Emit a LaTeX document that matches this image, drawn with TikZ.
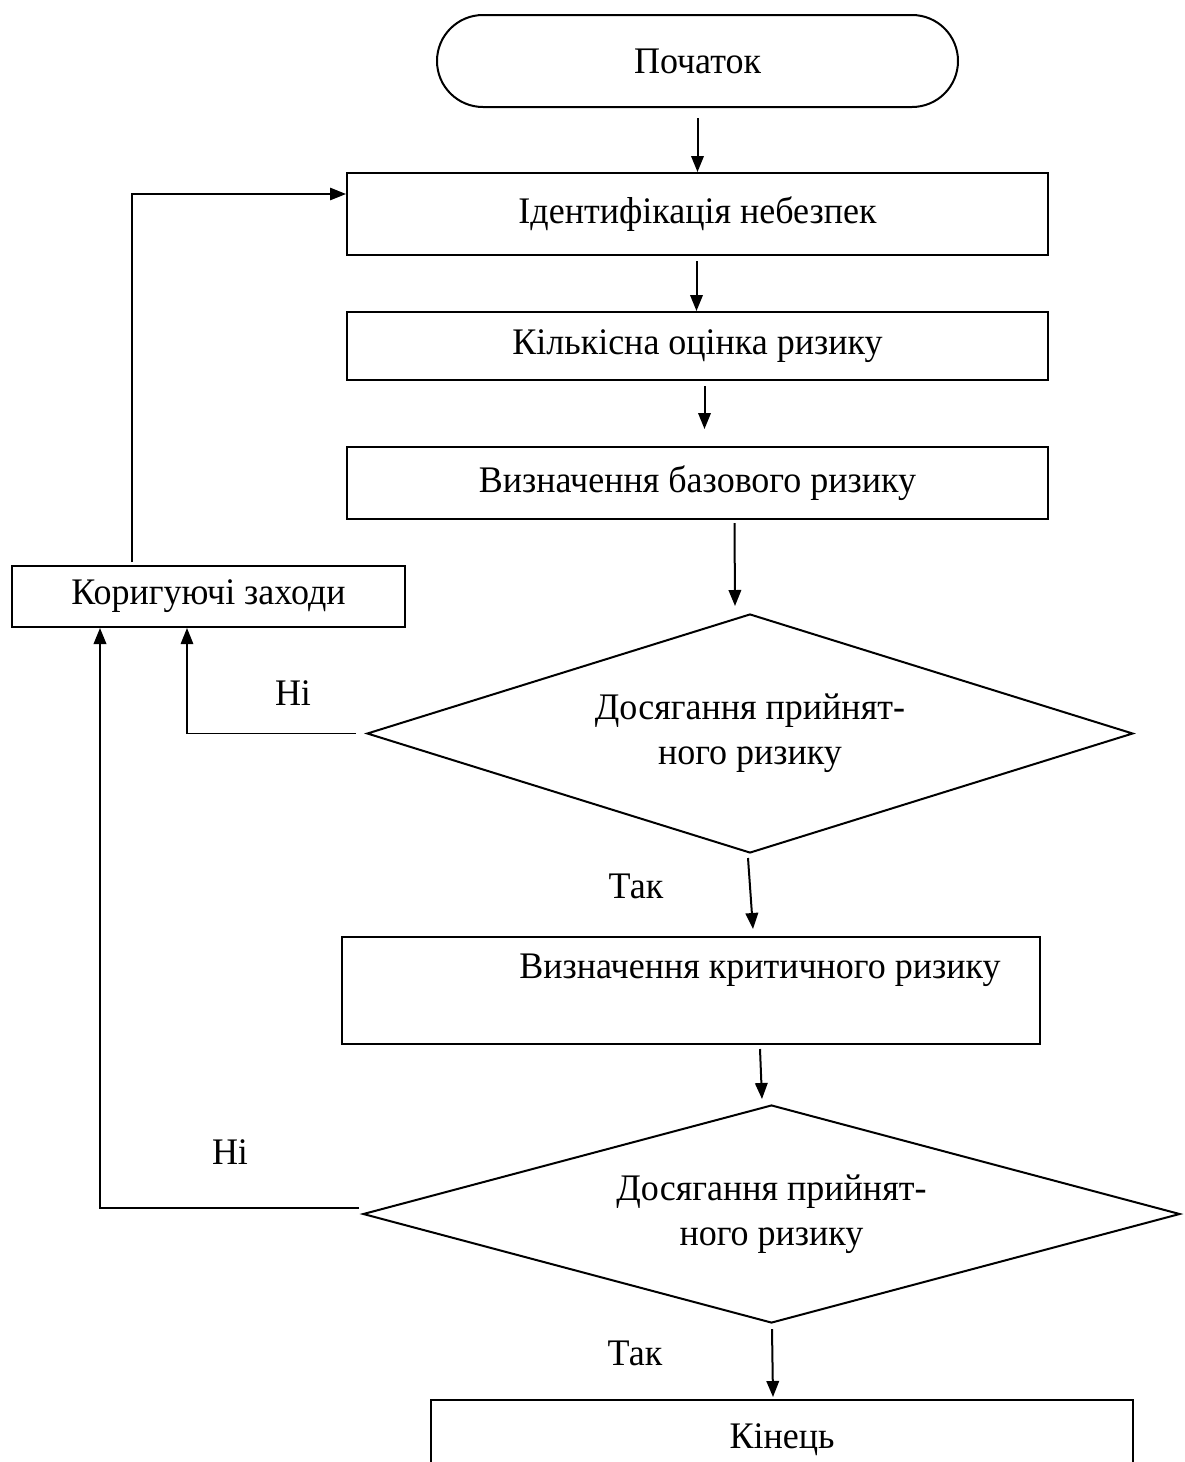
\documentclass[tikz,border=0pt]{standalone}
\usepackage{fontspec}
\setmainfont{Liberation Serif}[FakeStretch=0.96]
\usetikzlibrary{shapes.geometric,arrows.meta,calc}
\begin{document}
\begin{tikzpicture}[x=1pt,y=-1pt,
  font=\fontsize{37.5}{45}\selectfont,
  every node/.style={inner sep=0pt},
  boxnode/.style={draw, line width=2pt, rectangle, align=center},
  termnode/.style={draw, line width=2pt, rectangle, rounded corners=46pt, align=center},
  decnode/.style={draw, line width=2pt, diamond, align=center},
  arr/.style={line width=2pt, -{Triangle[length=16pt,width=12.5pt]}},
  thinarr/.style={line width=1.3pt, -{Triangle[length=16pt,width=12.5pt]}}
]
\useasboundingbox (0,0) rectangle (1184,1462);
\clip (0,0) rectangle (1184,1462);
\fill[white] (0,0) rectangle (1184,1462);

\node[termnode, minimum width=521pt, minimum height=92pt] (start) at (697.5,61) {Початок};
\node[boxnode, minimum width=701pt, minimum height=82pt] (box1) at (697.5,214) {Ідентифікація небезпек};
\node[boxnode, minimum width=701pt, minimum height=68pt] (box2) at (697.5,346) {Кількісна оцінка ризику};
\node[boxnode, minimum width=701pt, minimum height=72pt] (box3) at (697.5,483) {Визначення базового ризику};
\node[boxnode, minimum width=393pt, minimum height=61pt] (kor) at (208.5,596.5) {Коригуючі заходи};
\node[decnode, aspect=3.2, minimum width=766pt, minimum height=239pt] (d1) at (750,733.5) {Досягання прийнят-\\ного ризику};
\node[boxnode, minimum width=698pt, minimum height=107pt,
  label={[xshift=69pt,yshift=20pt]center:Визначення критичного ризику}] (box4) at (691,990.5) {};
\node[decnode, aspect=3.75, minimum width=817pt, minimum height=218pt] (d2) at (771.5,1214) {Досягання прийнят-\\ного ризику};
\node[boxnode, minimum width=702pt, minimum height=80pt] (fin) at (782,1440) {Кінець};

\node (no1) at (293,693) {Ні};
\node (no2) at (230,1152) {Ні};
\node (yes1) at (636,886) {Так};
\node (yes2) at (635,1353) {Так};

\draw[arr] ([yshift=-10pt]start.south) -- (box1.north);
\draw[arr] ([xshift=-1pt,yshift=-5pt]box1.south) -- ([xshift=-1pt]box2.north);
\draw[arr] ([xshift=7pt,yshift=-5pt]box2.south) -- ([xshift=7pt,yshift=17pt]box3.north);
\draw[arr] ([xshift=37pt,yshift=-3pt]box3.south) -- ([xshift=-15pt,yshift=7pt]d1.north);
\draw[arr] ([xshift=-2pt,yshift=-4pt]d1.south) -- ([xshift=62pt,yshift=7pt]box4.north);
\draw[arr] ([xshift=69pt,yshift=-4pt]box4.south) -- ([xshift=-9.5pt,yshift=5pt]d2.north);
\draw[arr] ([xshift=0.5pt,yshift=-5pt]d2.south) -- ([xshift=-9pt,yshift=2pt]fin.north);

\draw[thinarr] ([xshift=-10pt]d1.west) -| ([xshift=-21.5pt]kor.south);
\draw[arr] ([xshift=-3pt,yshift=6pt]d2.west) -| ([xshift=-108.5pt]kor.south);
\draw[thinarr] ([xshift=-76.5pt,yshift=3pt]kor.north) |- ([yshift=20pt]box1.west);
\end{tikzpicture}
\end{document}
